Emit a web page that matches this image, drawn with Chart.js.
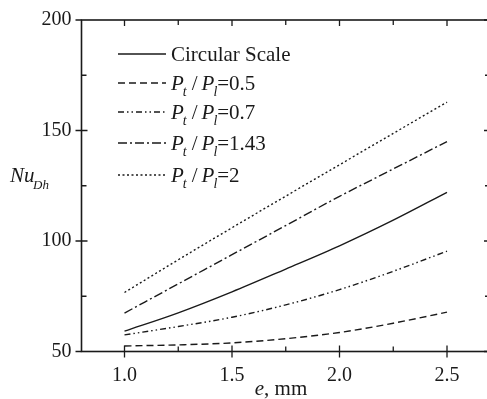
<!DOCTYPE html>
<html><head><meta charset="utf-8">
<script src="https://cdn.jsdelivr.net/npm/chart.js@4/dist/chart.umd.min.js"></script>
<style>html,body{margin:0;padding:0;background:#fff;overflow:hidden}#wrap{position:relative;width:490px;height:399px}</style>
</head><body><div id="wrap"><canvas id="c" width="490" height="399"></canvas></div>
<script>
// ---- data ----
const eValues = [1.0, 1.25, 1.5, 1.75, 2.0, 2.25, 2.5];
const circularScale = [59.2, 67.5, 77.0, 87.3, 97.8, 109.4, 122.0];
const ratio05 = [52.5, 53.0, 53.9, 55.8, 58.6, 62.8, 67.8];
const ratio07 = [57.5, 61.3, 65.5, 71.1, 78.0, 86.3, 95.4];
const ratio143 = [67.4, 80.6, 93.8, 107.0, 120.2, 132.6, 145.0];
const ratio2 = [76.7, 91.5, 106.0, 120.3, 134.5, 148.7, 162.8];
const xTickValues = [1.0, 1.5, 2.0, 2.5];
const xMinorValues = [1.25, 1.75, 2.25];
const yTickValues = [50, 100, 150, 200];
const yMinorValues = [75, 125, 175];
const seriesNames = ['Circular Scale', '0.5', '0.7', '1.43', '2'];

const INK = '#1a1a1a';
const SERIF = '"Liberation Serif", "Times New Roman", serif';
const dashes = [[], [7, 4], [6, 3, 1.5, 3, 1.5, 3], [9, 3, 2, 3], [2, 2.5]];
const seriesData = [circularScale, ratio05, ratio07, ratio143, ratio2];

const datasets = seriesData.map((arr, i) => ({
  label: seriesNames[i],
  data: eValues.map((e, k) => ({x: e, y: arr[k]})),
  borderColor: INK,
  borderWidth: 1.4,
  borderDash: dashes[i],
  pointRadius: 0,
  fill: false,
  cubicInterpolationMode: 'monotone'
}));

const framePlugin = {
  id: 'frame',
  afterDraw(chart) {
    const ctx = chart.ctx;
    const a = chart.chartArea;
    const xs = chart.scales.x, ys = chart.scales.y;
    ctx.save();
    ctx.strokeStyle = INK;
    ctx.lineWidth = 1.6;
    ctx.setLineDash([]);
    ctx.strokeRect(a.left, a.top, a.right - a.left, a.bottom - a.top);
    ctx.lineWidth = 1.3;
    ctx.beginPath();
    const T = 6;
    xTickValues.forEach(v => {
      const px = xs.getPixelForValue(v);
      ctx.moveTo(px, a.bottom + T); ctx.lineTo(px, a.bottom - T);
      ctx.moveTo(px, a.top); ctx.lineTo(px, a.top + T);
    });
    xMinorValues.forEach(v => {
      const px = xs.getPixelForValue(v);
      ctx.moveTo(px, a.bottom); ctx.lineTo(px, a.bottom - 5);
      ctx.moveTo(px, a.top); ctx.lineTo(px, a.top + 5);
    });
    yTickValues.forEach(v => {
      const py = ys.getPixelForValue(v);
      ctx.moveTo(a.left - T, py); ctx.lineTo(v === 200 || v === 50 ? a.left : a.left + T, py);
      ctx.moveTo(a.right, py); ctx.lineTo(a.right - T, py);
    });
    yMinorValues.forEach(v => {
      const py = ys.getPixelForValue(v);
      ctx.moveTo(a.left, py); ctx.lineTo(a.left + 5, py);
      ctx.moveTo(a.right, py); ctx.lineTo(a.right - 5, py);
    });
    ctx.stroke();

    // legend
    const rows = [54, 83, 112, 143, 175];
    const lx0 = 118, lx1 = 166, tx = 171;
    ctx.fillStyle = INK;
    ctx.textBaseline = 'alphabetic';
    ctx.textAlign = 'left';
    rows.forEach((y, i) => {
      ctx.beginPath();
      ctx.lineWidth = 1.4;
      ctx.setLineDash(dashes[i]);
      ctx.moveTo(lx0, y); ctx.lineTo(lx1, y);
      ctx.stroke();
      ctx.setLineDash([]);
      const base = y + 7;
      if (i === 0) {
        ctx.font = '21px ' + SERIF;
        ctx.fillText(seriesNames[0], tx, base);
      } else {
        let x = tx;
        ctx.font = 'italic 21px ' + SERIF;
        ctx.fillText('P', x, base); x += ctx.measureText('P').width - 1;
        ctx.font = 'italic 14px ' + SERIF;
        ctx.fillText('t', x, base + 6); x += ctx.measureText('t').width + 5;
        ctx.font = '21px ' + SERIF;
        ctx.fillText('/', x, base); x += ctx.measureText('/').width + 4;
        ctx.font = 'italic 21px ' + SERIF;
        ctx.fillText('P', x, base); x += ctx.measureText('P').width - 1;
        ctx.font = 'italic 14px ' + SERIF;
        ctx.fillText('l', x, base + 6); x += ctx.measureText('l').width;
        ctx.font = '21px ' + SERIF;
        ctx.fillText('=' + seriesNames[i], x, base);
      }
    });

    // axis titles
    ctx.font = 'italic 21px ' + SERIF;
    ctx.fillText('Nu', 10, 181.5);
    ctx.font = 'italic 13px ' + SERIF;
    ctx.fillText('Dh', 33, 189);
    ctx.font = 'italic 21px ' + SERIF;
    const eW = ctx.measureText('e').width;
    ctx.font = '21px ' + SERIF;
    const restW = ctx.measureText(', mm').width;
    let sx = 281 - (eW + restW) / 2;
    ctx.font = 'italic 21px ' + SERIF;
    ctx.fillText('e', sx, 395);
    ctx.font = '21px ' + SERIF;
    ctx.fillText(', mm', sx + eW, 395);
    ctx.restore();
  }
};

new Chart(document.getElementById('c'), {
  type: 'line',
  data: {datasets},
  options: {
    responsive: false,
    animation: false,
    devicePixelRatio: 1,
    layout: {padding: {top: 20, right: 0, left: 0, bottom: 0}},
    plugins: {legend: {display: false}, tooltip: {enabled: false}},
    scales: {
      x: {
        type: 'linear', min: 0.8, max: 2.7,
        afterBuildTicks: s => { s.ticks = xTickValues.map(v => ({value: v})); },
        afterFit: s => { s.height = 47.5; },
        grid: {display: false}, border: {display: false},
        ticks: {font: {family: SERIF, size: 20}, color: INK, padding: 4, maxRotation: 0,
          callback: v => Number(v).toFixed(1)}
      },
      y: {
        type: 'linear', min: 50, max: 200,
        afterBuildTicks: s => { s.ticks = yTickValues.map(v => ({value: v})); },
        afterFit: s => { s.width = 81.5; },
        grid: {display: false}, border: {display: false},
        ticks: {font: {family: SERIF, size: 20}, color: INK, padding: 2}
      }
    }
  },
  plugins: [framePlugin]
});
</script>
</body></html>
